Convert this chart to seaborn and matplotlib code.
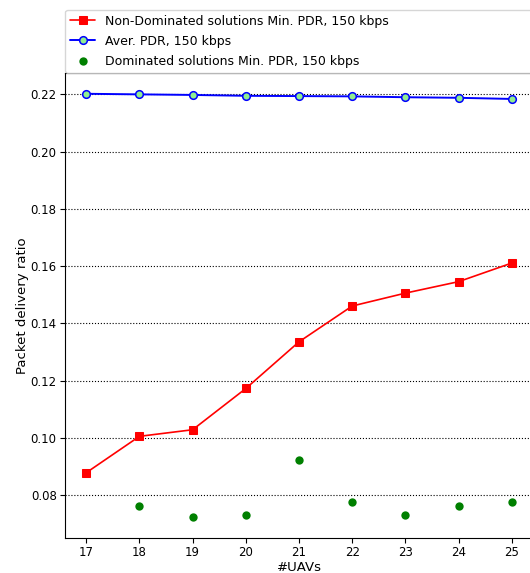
import matplotlib
matplotlib.use("Agg")
import matplotlib.pyplot as plt
import seaborn as sns
import numpy as np

uavs = [17, 18, 19, 20, 21, 22, 23, 24, 25]
nondom_min_pdr = [0.0879, 0.1006, 0.1029, 0.1173, 0.1336, 0.1461, 0.1506, 0.1546, 0.1611]
aver_pdr = [0.2202, 0.2200, 0.2198, 0.2195, 0.2194, 0.2193, 0.2190, 0.2188, 0.2184]
dom_x = [18, 19, 20, 21, 22, 23, 24, 25]
dom_min_pdr = [0.0762, 0.0725, 0.0731, 0.0925, 0.0775, 0.0731, 0.0762, 0.0775]

lab_red = "Non-Dominated solutions Min. PDR, 150 kbps"
lab_blue = "Aver. PDR, 150 kbps"
lab_green = "Dominated solutions Min. PDR, 150 kbps"

sns.set_style("ticks", {"text.color": "black", "axes.labelcolor": "black",
                        "xtick.color": "black", "ytick.color": "black",
                        "axes.edgecolor": "black"})
plt.rcParams['font.family'] = ['DejaVu Sans']

fig = plt.figure(figsize=(5.30, 5.73), dpi=100)
ax = fig.add_axes([65/530, 35/573, (533-65)/530, (538-72.6)/573])

sns.lineplot(x=uavs, y=nondom_min_pdr, ax=ax, color="red", marker="s",
             markersize=5.5, markeredgecolor="red", markerfacecolor="red",
             linewidth=1.2, label=lab_red)
sns.lineplot(x=uavs, y=aver_pdr, ax=ax, color="blue", marker="o",
             markersize=5.5, markeredgecolor="blue", markerfacecolor="lightgreen",
             markeredgewidth=1.1, linewidth=1.4, label=lab_blue)
sns.scatterplot(x=dom_x, y=dom_min_pdr, ax=ax, color="green", s=36,
                linewidth=0, label=lab_green)

ax.set_xticks(uavs)
ax.set_xlim(16.6, 25.4)
ax.set_ylim(0.0651, 0.2276)
ax.yaxis.grid(True, linestyle=":", color="black", linewidth=0.8)
ax.xaxis.grid(False)
ax.set_xlabel("#UAVs", fontsize=9.5, labelpad=1.5)
ax.set_ylabel("Packet delivery ratio", fontsize=9.5, labelpad=1)
ax.tick_params(labelsize=8.5, length=3.5, width=0.8, pad=2.5)

ax.legend(loc="lower left", bbox_to_anchor=(0, 1.0, 1, 0.2), mode="expand",
          borderaxespad=0, fontsize=9, labelspacing=0.55, frameon=True)

fig.savefig("out.png", dpi=100)
